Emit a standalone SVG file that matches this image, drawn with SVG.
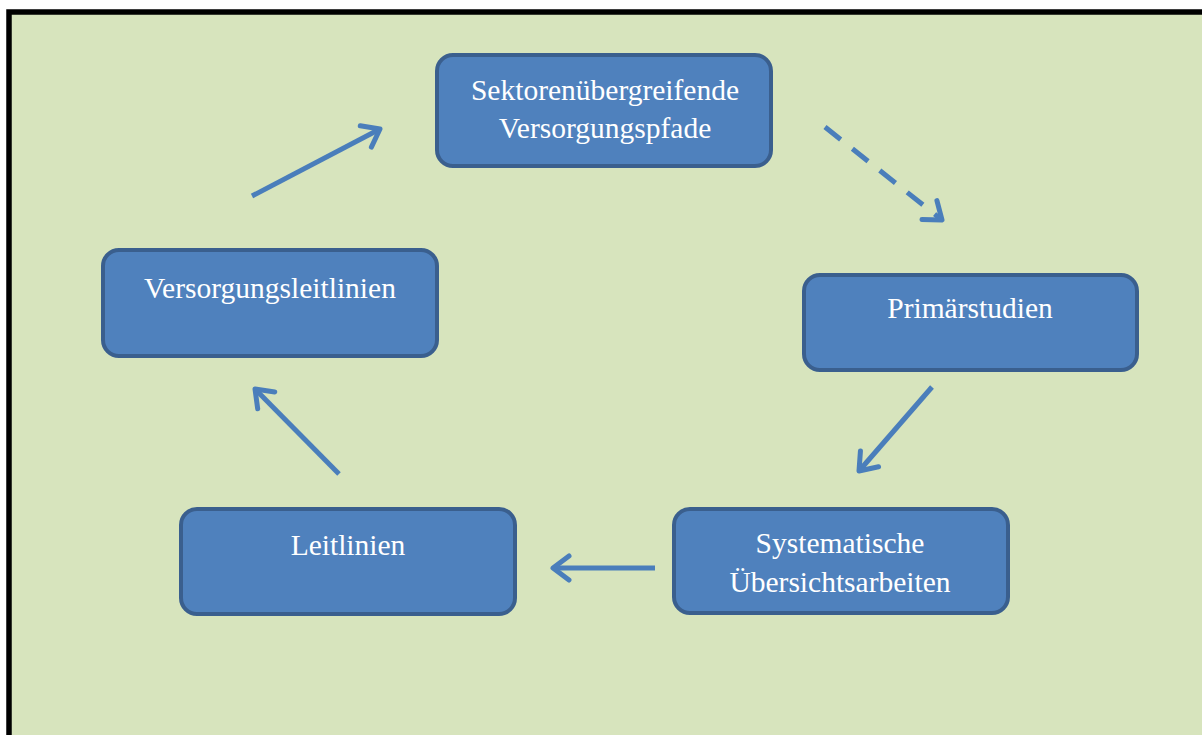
<svg xmlns="http://www.w3.org/2000/svg" width="1202" height="735" viewBox="0 0 1202 735">
<style>
.node rect{fill:#4f81bd;stroke:#3a5f8e;stroke-width:4}
.node text{font-family:"Liberation Serif","Times New Roman",serif;font-size:29.5px;fill:#ffffff;text-anchor:middle}
.conn line{stroke:#4a7ebb;stroke-width:5;fill:none}
.conn .dash{stroke-dasharray:20 15}
</style>
<defs>
<marker id="ah" viewBox="-22 -16 26 32" refX="0" refY="0" markerWidth="26" markerHeight="32" orient="auto" markerUnits="userSpaceOnUse">
<path d="M-16,-12 L0,0 L-16,12" fill="none" stroke="#4a7ebb" stroke-width="5" stroke-linecap="round" stroke-linejoin="round"/>
</marker>
</defs>
<rect x="9" y="12" width="1210" height="740" fill="#d7e4bd" stroke="#000000" stroke-width="5.5"/>
<g id="n1" class="node">
<rect x="437" y="55" width="334" height="111" rx="16"/>
<text x="605" y="100">Sektorenübergreifende</text>
<text x="605" y="138">Versorgungspfade</text>
</g>
<g id="n2" class="node">
<rect x="804" y="275" width="333" height="95" rx="16"/>
<text x="970" y="318">Primärstudien</text>
</g>
<g id="n3" class="node">
<rect x="674" y="509" width="334" height="104" rx="16"/>
<text x="840" y="553">Systematische</text>
<text x="840" y="592">Übersichtsarbeiten</text>
</g>
<g id="n4" class="node">
<rect x="181" y="509" width="334" height="105" rx="16"/>
<text x="348" y="555">Leitlinien</text>
</g>
<g id="n5" class="node">
<rect x="103" y="250" width="334" height="106" rx="16"/>
<text x="270" y="298">Versorgungsleitlinien</text>
</g>
<g id="connectors" class="conn">
<line class="dash" x1="825" y1="127" x2="942" y2="220" marker-end="url(#ah)"/>
<line x1="932" y1="387" x2="859" y2="471" marker-end="url(#ah)"/>
<line x1="655" y1="568" x2="553" y2="568" marker-end="url(#ah)"/>
<line x1="339" y1="474" x2="255" y2="389" marker-end="url(#ah)"/>
<line x1="252" y1="196" x2="380" y2="129" marker-end="url(#ah)"/>
</g>
</svg>
